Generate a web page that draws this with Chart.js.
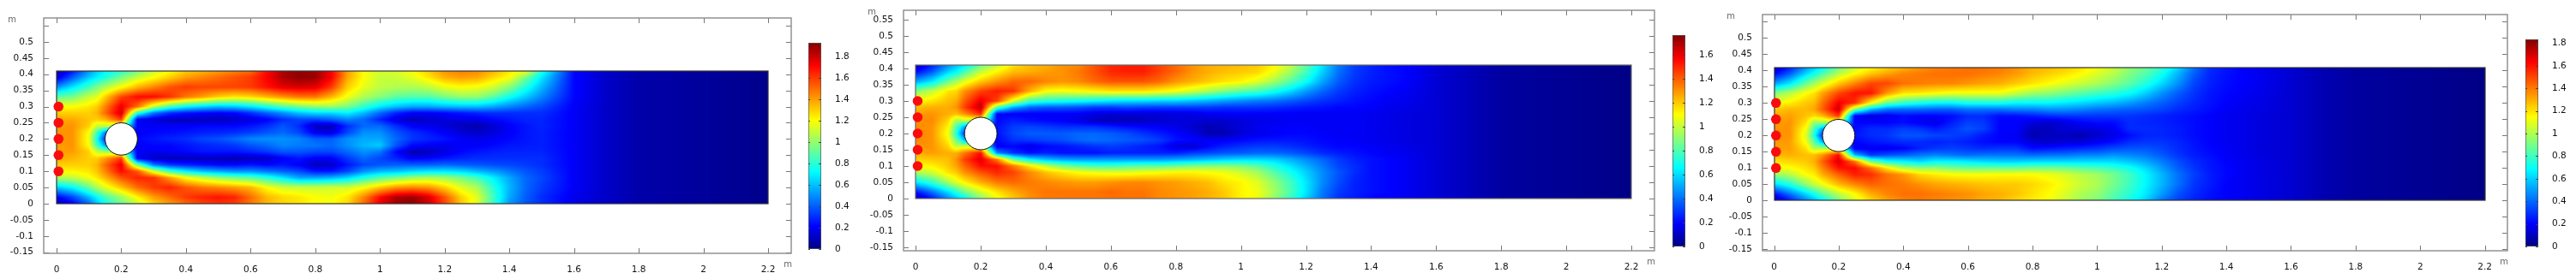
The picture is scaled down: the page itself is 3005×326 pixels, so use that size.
<!DOCTYPE html>
<html>
<head>
<meta charset="utf-8">
<title>Velocity field</title>
<script src="https://cdn.jsdelivr.net/npm/chart.js@4"></script>
<style>
  body { margin: 0; background: #fff; width: 3005px; height: 326px; overflow: hidden; position: relative; }
  canvas { position: absolute; top: 0; filter: blur(.4px); }
</style>
</head>
<body>
<script>
// sample positions of the speed grid (m)
const gridX = [0, .05, .1, .125, .15, .2, .25, .3, .35, .4, .45, .5, .55, .6, .65, .7, .75, .8, .85, .9, .95, 1, 1.05, 1.1, 1.15, 1.2, 1.25, 1.3, 1.35, 1.4, 1.45, 1.5, 1.6, 1.7, 1.8, 2.2];
const gridY = [.41, .39, .36, .33, .3, .28, .26, .24, .22, .2, .18, .16, .14, .12, .1, .08, .05, .02, 0];

// speed, one row per gridY
const speedA = [
  [.05,.25,.5,.62,.7,.8,.95,1.1,1.2,1.3,1.35,1.4,1.45,1.5,1.7,1.85,1.9,1.88,1.72,1.4,1.2,1.12,1.13,1.2,1.3,1.42,1.46,1.44,1.36,1.25,1.2,.78,.22,.12,.07,.02],
  [.15,.4,.62,.7,.78,.95,1.1,1.2,1.3,1.4,1.45,1.5,1.55,1.6,1.72,1.85,1.9,1.88,1.72,1.38,1.2,1.1,1.1,1.15,1.25,1.36,1.4,1.38,1.28,1.2,.95,.68,.22,.12,.07,.02],
  [.5,.68,.85,.95,1.05,1.2,1.35,1.45,1.55,1.6,1.58,1.58,1.58,1.6,1.68,1.76,1.78,1.76,1.6,1.3,1.16,1.08,1.06,1.05,1.08,1.16,1.2,1.18,1.12,.98,.78,.58,.22,.12,.07,.02],
  [.9,.95,1.1,1.15,1.3,1.58,1.7,1.7,1.62,1.48,1.4,1.3,1.25,1.28,1.35,1.42,1.48,1.48,1.35,1.18,1.05,.98,.9,.88,.88,.95,1,1,.9,.75,.62,.48,.22,.12,.07,.02],
  [1.2,1.2,1.25,1.3,1.45,1.75,1.5,1.1,.85,.72,.65,.6,.62,.68,.78,.88,.95,1,1.02,.95,.82,.68,.6,.55,.55,.58,.6,.6,.55,.48,.42,.36,.2,.12,.07,.02],
  [1.3,1.3,1.3,1.35,1.5,1.8,.8,.45,.3,.25,.22,.2,.22,.3,.4,.5,.6,.65,.65,.7,.58,.42,.28,.2,.2,.22,.25,.28,.3,.3,.3,.3,.2,.12,.07,.02],
  [1.38,1.38,1.32,1.3,1.35,1.6,.2,.15,.1,.1,.1,.1,.12,.15,.2,.3,.35,.35,.4,.48,.42,.28,.15,.1,.13,.15,.17,.17,.22,.25,.28,.28,.2,.12,.07,.02],
  [1.4,1.42,1.3,1.1,1.1,1,.2,.2,.2,.2,.22,.22,.22,.25,.3,.38,.3,.1,.1,.3,.42,.42,.3,.2,.18,.15,.1,.08,.13,.2,.25,.28,.2,.12,.07,.02],
  [1.42,1.42,1.2,.85,.5,.2,.2,.22,.23,.25,.27,.28,.3,.33,.38,.42,.35,.18,.15,.35,.5,.5,.38,.3,.25,.2,.15,.12,.15,.2,.25,.27,.2,.12,.07,.02],
  [1.42,1.42,1.18,.75,.3,.2,.22,.25,.28,.3,.35,.37,.42,.48,.5,.5,.48,.4,.4,.5,.55,.55,.42,.32,.28,.25,.2,.18,.2,.22,.25,.27,.2,.12,.07,.02],
  [1.4,1.42,1.2,.85,.55,.2,.2,.22,.22,.25,.28,.3,.32,.38,.42,.48,.46,.45,.42,.5,.58,.62,.38,.22,.2,.18,.2,.2,.22,.25,.26,.27,.2,.12,.07,.02],
  [1.4,1.4,1.3,1.1,1.05,1,.2,.18,.2,.22,.25,.25,.25,.28,.32,.38,.38,.35,.35,.42,.5,.45,.22,.08,.1,.16,.22,.25,.27,.28,.28,.28,.2,.12,.07,.02],
  [1.38,1.35,1.3,1.3,1.4,1.6,.2,.12,.1,.1,.1,.1,.08,.1,.12,.2,.25,.2,.2,.32,.42,.35,.28,.2,.22,.25,.28,.3,.3,.3,.3,.3,.2,.12,.07,.02],
  [1.3,1.3,1.3,1.35,1.5,1.75,.95,.45,.32,.28,.25,.22,.22,.25,.22,.25,.2,.1,.12,.25,.35,.38,.4,.4,.4,.42,.4,.38,.36,.35,.33,.3,.2,.12,.07,.02],
  [1.22,1.22,1.25,1.32,1.45,1.7,1.55,1.15,.85,.7,.6,.55,.5,.5,.45,.4,.35,.25,.25,.35,.5,.58,.6,.65,.68,.68,.65,.58,.52,.45,.38,.33,.2,.12,.07,.02],
  [1.05,1.08,1.18,1.25,1.35,1.55,1.65,1.62,1.4,1.2,1.1,1,.95,.9,.8,.68,.55,.55,.58,.65,.78,.88,.95,1.02,1.05,1.02,.95,.85,.7,.55,.42,.35,.2,.12,.07,.02],
  [.62,.72,.92,1.05,1.15,1.32,1.5,1.6,1.65,1.55,1.48,1.45,1.4,1.35,1.2,1.12,1.1,1.1,1.12,1.12,1.2,1.32,1.42,1.45,1.42,1.3,1.15,1.05,.8,.58,.42,.33,.2,.12,.07,.02],
  [.2,.35,.58,.72,.85,1.02,1.22,1.4,1.5,1.6,1.65,1.68,1.65,1.5,1.35,1.28,1.25,1.2,1.18,1.25,1.45,1.7,1.85,1.88,1.78,1.55,1.3,1.15,.85,.55,.4,.3,.18,.12,.07,.02],
  [.06,.2,.42,.6,.75,.92,1.1,1.28,1.4,1.5,1.58,1.62,1.6,1.48,1.35,1.28,1.25,1.2,1.2,1.28,1.5,1.75,1.88,1.9,1.8,1.58,1.32,1.15,.82,.52,.38,.3,.18,.12,.07,.02]
];
const speedB = [
  [.08,.25,.45,.55,.62,.85,1,1.15,1.22,1.25,1.3,1.32,1.42,1.5,1.52,1.52,1.45,1.38,1.3,1.25,1.24,1.22,1.2,1.12,1,.82,.62,.42,.3,.26,.22,.2,.13,.09,.05,.01],
  [.2,.35,.58,.65,.78,1,1.12,1.22,1.25,1.28,1.3,1.35,1.42,1.5,1.52,1.52,1.45,1.38,1.3,1.25,1.22,1.2,1.18,1.08,.95,.78,.58,.4,.3,.25,.22,.2,.13,.09,.05,.01],
  [.5,.62,.85,.95,1.05,1.2,1.3,1.38,1.38,1.33,1.3,1.32,1.38,1.42,1.42,1.42,1.38,1.3,1.25,1.2,1.15,1.12,1.05,.95,.82,.68,.5,.36,.28,.24,.22,.2,.13,.09,.05,.01],
  [.9,1,1.15,1.18,1.3,1.45,1.52,1.48,1.25,1.1,1.08,1.1,1.12,1.15,1.15,1.15,1.12,1.08,1.02,.95,.88,.82,.78,.7,.6,.48,.38,.3,.25,.22,.2,.18,.13,.09,.05,.01],
  [1.1,1.15,1.22,1.25,1.4,1.6,1.45,1.05,.78,.72,.7,.68,.65,.62,.6,.6,.58,.58,.55,.52,.48,.45,.42,.4,.36,.32,.28,.25,.22,.2,.18,.17,.13,.09,.05,.01],
  [1.22,1.25,1.25,1.3,1.45,1.68,.8,.5,.38,.35,.35,.33,.3,.3,.32,.3,.3,.3,.3,.3,.28,.28,.28,.27,.25,.23,.22,.2,.2,.19,.17,.16,.13,.09,.05,.01],
  [1.28,1.3,1.25,1.22,1.3,1.5,.2,.18,.18,.18,.18,.18,.15,.13,.13,.13,.13,.14,.15,.17,.18,.18,.18,.18,.18,.18,.18,.18,.18,.17,.16,.15,.13,.09,.05,.01],
  [1.3,1.32,1.18,.95,1,1,.2,.25,.22,.2,.18,.15,.1,.08,.08,.1,.12,.14,.14,.12,.12,.14,.16,.17,.18,.18,.18,.18,.18,.17,.16,.15,.13,.09,.05,.01],
  [1.32,1.3,1.12,.8,.5,.2,.22,.3,.32,.3,.28,.28,.28,.25,.22,.2,.18,.16,.12,.08,.1,.14,.17,.18,.19,.19,.18,.18,.18,.17,.16,.15,.13,.09,.05,.01],
  [1.33,1.3,1.08,.72,.3,.2,.22,.32,.36,.36,.36,.38,.38,.36,.33,.28,.24,.2,.16,.08,.08,.13,.16,.18,.2,.2,.19,.18,.18,.17,.16,.15,.13,.09,.05,.01],
  [1.32,1.3,1.12,.85,.55,.2,.2,.28,.3,.32,.34,.38,.4,.38,.36,.34,.3,.22,.2,.18,.18,.2,.22,.23,.23,.22,.2,.19,.18,.17,.16,.15,.13,.09,.05,.01],
  [1.3,1.3,1.18,1,1.05,1,.18,.2,.15,.2,.22,.25,.28,.3,.28,.25,.22,.14,.12,.2,.25,.28,.3,.3,.28,.25,.22,.2,.2,.18,.17,.16,.13,.09,.05,.01],
  [1.25,1.28,1.25,1.25,1.35,1.55,.45,.28,.22,.25,.22,.22,.22,.25,.25,.25,.25,.25,.3,.32,.35,.36,.38,.38,.36,.32,.27,.24,.22,.2,.18,.17,.13,.09,.05,.01],
  [1.18,1.2,1.22,1.3,1.45,1.62,1.35,.85,.65,.55,.5,.48,.48,.48,.48,.48,.48,.5,.52,.55,.58,.6,.6,.58,.52,.45,.38,.3,.25,.22,.2,.18,.13,.09,.05,.01],
  [1.1,1.12,1.2,1.27,1.38,1.55,1.55,1.35,1.15,1,.88,.82,.78,.78,.8,.82,.82,.85,.88,.9,.9,.88,.82,.72,.62,.52,.42,.32,.27,.22,.2,.18,.13,.09,.05,.01],
  [.95,1.02,1.15,1.2,1.3,1.42,1.5,1.45,1.32,1.22,1.15,1.1,1.08,1.06,1.06,1.08,1.1,1.12,1.12,1.1,1.08,1.02,.95,.82,.7,.58,.45,.35,.27,.22,.2,.18,.13,.09,.05,.01],
  [.62,.75,.95,1.05,1.12,1.25,1.35,1.38,1.35,1.32,1.3,1.28,1.28,1.3,1.32,1.32,1.3,1.28,1.25,1.22,1.15,1.12,1.05,.92,.78,.62,.45,.33,.25,.22,.2,.18,.13,.09,.05,.01],
  [.22,.4,.6,.72,.85,1.02,1.15,1.25,1.32,1.36,1.36,1.36,1.36,1.38,1.36,1.36,1.32,1.3,1.28,1.25,1.2,1.12,1.08,.95,.8,.62,.42,.3,.25,.22,.2,.18,.13,.09,.05,.01],
  [.06,.22,.45,.55,.65,.9,1.08,1.2,1.3,1.34,1.35,1.35,1.35,1.36,1.36,1.36,1.32,1.3,1.28,1.25,1.2,1.12,1.08,.92,.76,.58,.4,.28,.24,.2,.18,.17,.13,.09,.05,.01]
];
const speedC = [
  [.08,.25,.48,.58,.68,.88,1.05,1.15,1.22,1.28,1.34,1.38,1.4,1.42,1.42,1.4,1.36,1.3,1.28,1.25,1.2,1.14,1.05,.95,.88,.78,.62,.42,.28,.24,.2,.18,.13,.08,.05,.01],
  [.2,.38,.62,.72,.82,1.02,1.15,1.25,1.32,1.38,1.4,1.42,1.42,1.42,1.4,1.38,1.34,1.28,1.24,1.2,1.15,1.08,1.02,.92,.84,.72,.55,.38,.27,.23,.2,.18,.13,.08,.05,.01],
  [.5,.65,.88,.98,1.08,1.25,1.38,1.5,1.5,1.42,1.4,1.38,1.38,1.35,1.32,1.3,1.25,1.2,1.15,1.1,1.05,1,.93,.85,.75,.62,.48,.33,.26,.22,.2,.18,.13,.08,.05,.01],
  [.92,1.02,1.15,1.2,1.32,1.5,1.6,1.6,1.35,1.2,1.18,1.15,1.12,1.12,1.12,1.12,1.05,.98,.95,.9,.85,.8,.76,.7,.6,.48,.38,.3,.24,.21,.19,.17,.13,.08,.05,.01],
  [1.12,1.18,1.25,1.28,1.42,1.65,1.55,1.15,.88,.78,.72,.68,.68,.72,.72,.72,.68,.68,.68,.65,.62,.58,.55,.5,.44,.38,.32,.27,.23,.2,.18,.16,.13,.08,.05,.01],
  [1.25,1.28,1.28,1.32,1.45,1.72,.9,.55,.42,.4,.4,.38,.38,.42,.42,.42,.45,.45,.48,.48,.45,.42,.4,.38,.36,.33,.28,.25,.22,.19,.17,.16,.13,.08,.05,.01],
  [1.3,1.33,1.26,1.22,1.28,1.52,.2,.15,.17,.22,.2,.2,.22,.28,.28,.22,.22,.25,.28,.3,.3,.3,.3,.3,.28,.26,.24,.22,.2,.18,.17,.15,.13,.08,.05,.01],
  [1.33,1.35,1.2,.95,.98,1,.2,.2,.2,.22,.18,.16,.25,.32,.3,.2,.2,.15,.12,.15,.2,.22,.22,.28,.27,.26,.24,.22,.2,.18,.17,.15,.13,.08,.05,.01],
  [1.35,1.35,1.12,.8,.5,.2,.22,.28,.28,.32,.3,.25,.3,.36,.32,.2,.2,.1,.1,.14,.14,.15,.18,.28,.28,.27,.25,.22,.2,.18,.17,.15,.13,.08,.05,.01],
  [1.36,1.35,1.08,.72,.3,.2,.24,.28,.3,.36,.36,.33,.32,.3,.24,.2,.18,.08,.1,.1,.08,.12,.16,.22,.27,.27,.25,.22,.2,.18,.17,.15,.13,.08,.05,.01],
  [1.35,1.33,1.12,.85,.55,.2,.2,.24,.26,.28,.28,.26,.28,.25,.22,.2,.2,.14,.12,.14,.14,.18,.22,.28,.3,.3,.27,.23,.2,.18,.17,.15,.13,.08,.05,.01],
  [1.32,1.33,1.2,1,1.02,1,.18,.18,.17,.2,.26,.3,.32,.3,.28,.3,.3,.22,.24,.26,.28,.3,.34,.36,.36,.33,.28,.24,.21,.19,.17,.15,.13,.08,.05,.01],
  [1.28,1.3,1.27,1.27,1.35,1.62,.55,.3,.35,.38,.42,.45,.42,.4,.42,.42,.42,.4,.42,.42,.45,.45,.48,.46,.43,.37,.3,.25,.22,.19,.17,.15,.13,.08,.05,.01],
  [1.2,1.22,1.25,1.3,1.45,1.7,1.42,.9,.72,.68,.62,.68,.68,.65,.62,.6,.6,.62,.62,.62,.62,.62,.62,.58,.52,.44,.35,.28,.24,.2,.18,.16,.13,.08,.05,.01],
  [1.12,1.14,1.2,1.25,1.38,1.6,1.62,1.42,1.18,1,.95,.95,.9,.88,.88,.88,.88,.9,.9,.88,.85,.82,.78,.72,.62,.5,.38,.3,.24,.21,.18,.16,.13,.08,.05,.01],
  [.95,1.02,1.15,1.18,1.3,1.45,1.58,1.55,1.42,1.35,1.22,1.18,1.15,1.14,1.14,1.15,1.15,1.15,1.12,1.08,1.02,.98,.9,.8,.68,.55,.42,.32,.25,.21,.18,.16,.13,.08,.05,.01],
  [.62,.75,.95,1.05,1.12,1.28,1.38,1.45,1.42,1.4,1.36,1.32,1.3,1.28,1.26,1.25,1.25,1.22,1.18,1.12,1.05,1,.9,.8,.68,.55,.42,.3,.25,.2,.18,.16,.13,.08,.05,.01],
  [.22,.42,.62,.72,.85,1.02,1.15,1.3,1.38,1.42,1.42,1.4,1.38,1.36,1.32,1.3,1.26,1.2,1.15,1.08,1,.95,.85,.76,.65,.5,.36,.28,.23,.2,.18,.16,.13,.08,.05,.01],
  [.06,.24,.45,.55,.65,.9,1.08,1.22,1.32,1.38,1.4,1.38,1.36,1.34,1.3,1.28,1.22,1.18,1.14,1.06,.98,.92,.82,.72,.6,.42,.32,.26,.22,.2,.18,.16,.13,.08,.05,.01]
];

// axis ticks
const xTicks = [0, .2, .4, .6, .8, 1, 1.2, 1.4, 1.6, 1.8, 2, 2.2];
const yTicks = [-.15, -.1, -.05, 0, .05, .1, .15, .2, .25, .3, .35, .4, .45, .5, .55];
const barTicks = [0, .2, .4, .6, .8, 1, 1.2, 1.4, 1.6, 1.8];

// inlets and cylinder
const inletX = [.006, .006, .006, .006, .006];
const inletY = [.1, .15, .2, .25, .3];
const cylinderX = [.2];
const cylinderY = [.2];
const cylinderR = .05;
const channelW = 2.2;
const channelH = .41;

// jet colour stops
const jetStops = [[0, 0, 0, 128], [.11, 0, 0, 255], [.375, 0, 255, 255], [.625, 255, 255, 0], [.89, 255, 0, 0], [1, 128, 0, 0]];

const fontStyle = { family: "'DejaVu Sans'", size: 10.5 };
const labelColor = '#111';
const frameColor = '#8a8a8a';

function jet(t) {
  t = Math.min(1, Math.max(0, t));
  for (let i = 1; i < jetStops.length; i++) {
    if (t <= jetStops[i][0]) {
      const a = jetStops[i - 1], b = jetStops[i];
      const f = (t - a[0]) / (b[0] - a[0]);
      return [a[1] + (b[1] - a[1]) * f, a[2] + (b[2] - a[2]) * f, a[3] + (b[3] - a[3]) * f];
    }
  }
  return jetStops[jetStops.length - 1].slice(1);
}

// finds the cell holding v, gridY runs downward so it gets flipped by the sign
function locate(grid, v) {
  const sign = grid[1] > grid[0] ? 1 : -1;
  let i = 0;
  while (i < grid.length - 2 && sign * v > sign * grid[i + 1]) i++;
  return [i, (v - grid[i]) / (grid[i + 1] - grid[i])];
}

// paints the grid between the channel walls through the chart scales
const fieldPlugin = {
  id: 'field',
  beforeDatasetsDraw(chart, args, opts) {
    const { x, y } = chart.scales;
    const ctx = chart.ctx;
    const left = Math.round(x.getPixelForValue(0)), right = Math.round(x.getPixelForValue(channelW));
    const top = Math.round(y.getPixelForValue(channelH)), bottom = Math.round(y.getPixelForValue(0));
    const img = ctx.createImageData(right - left, bottom - top);
    for (let py = top; py < bottom; py++) {
      const [r, fy] = locate(gridY, y.getValueForPixel(py + .5));
      for (let px = left; px < right; px++) {
        const [c, fx] = locate(gridX, x.getValueForPixel(px + .5));
        const row0 = opts.speed[r], row1 = opts.speed[r + 1];
        const v0 = row0[c] + (row0[c + 1] - row0[c]) * fx;
        const v1 = row1[c] + (row1[c + 1] - row1[c]) * fx;
        const rgb = jet((v0 + (v1 - v0) * fy) / opts.max);
        const k = ((py - top) * (right - left) + px - left) * 4;
        img.data[k] = rgb[0];
        img.data[k + 1] = rgb[1];
        img.data[k + 2] = rgb[2];
        img.data[k + 3] = 255;
      }
    }
    ctx.putImageData(img, left, top);
    ctx.save();
    ctx.strokeStyle = opts.edge;
    ctx.lineWidth = 1.2;
    ctx.strokeRect(left, top, right - left, bottom - top);
    ctx.restore();
  },
  afterDraw(chart) {
    const { x, y } = chart.scales;
    const { left, right, top, bottom } = chart.chartArea;
    const ctx = chart.ctx;
    ctx.save();
    ctx.strokeStyle = '#777';
    ctx.lineWidth = 1;
    ctx.beginPath();
    y.ticks.forEach(t => {
      const p = Math.round(y.getPixelForValue(t.value)) + .5;
      ctx.moveTo(left, p); ctx.lineTo(left + 6, p);
      ctx.moveTo(right, p); ctx.lineTo(right - 6, p);
    });
    x.ticks.forEach(t => {
      const p = Math.round(x.getPixelForValue(t.value)) + .5;
      ctx.moveTo(p, top); ctx.lineTo(p, top + 6);
      ctx.moveTo(p, bottom); ctx.lineTo(p, bottom - 6);
    });
    ctx.stroke();
    ctx.strokeStyle = frameColor;
    ctx.lineWidth = 1.4;
    ctx.strokeRect(left, top, right - left, bottom - top);
    // unit labels
    ctx.fillStyle = '#666';
    ctx.font = "10px 'DejaVu Sans'";
    ctx.textAlign = 'center';
    ctx.textBaseline = 'middle';
    ctx.fillText('m', left - 37, top + 2);
    ctx.fillText('m', right - 4, bottom + 13);
    ctx.restore();
  }
};

const barPlugin = {
  id: 'barTicks',
  afterDraw(chart) {
    const y = chart.scales.y;
    const { left, right } = chart.chartArea;
    const ctx = chart.ctx;
    ctx.save();
    ctx.strokeStyle = '#444';
    ctx.beginPath();
    y.ticks.forEach(t => {
      const p = Math.round(y.getPixelForValue(t.value)) + .5;
      ctx.moveTo(right - 3, p); ctx.lineTo(right, p);
      ctx.moveTo(left, p); ctx.lineTo(left + 2, p);
    });
    ctx.stroke();
    ctx.restore();
  }
};

function addCanvas(left, width) {
  const canvas = document.createElement('canvas');
  canvas.width = width;
  canvas.height = 326;
  canvas.style.left = left + 'px';
  canvas.style.width = width + 'px';
  canvas.style.height = '326px';
  document.body.appendChild(canvas);
  return canvas;
}

function addPanel(p) {
  const margin = 50, rightGap = 12;
  const canvas = addCanvas(p.left - margin, p.right - p.left + margin + rightGap);
  // scale ends worked out from where 0 and 2.2 / 0 and 0.4 sit in the picture
  const pxX = (p.x22 - p.x0) / 2.2, pxY = (p.y0 - p.y04) / .4;
  new Chart(canvas, {
    type: 'scatter',
    data: {
      datasets: [
        {
          data: inletX.map((v, i) => ({ x: v, y: inletY[i] })),
          pointRadius: 5.8,
          pointBackgroundColor: '#fa0c0c',
          pointBorderWidth: 0
        },
        {
          data: cylinderX.map((v, i) => ({ x: v, y: cylinderY[i] })),
          pointRadius: c => {
            const s = c.chart.scales.x;
            return Math.abs(s.getPixelForValue(cylinderR) - s.getPixelForValue(0));
          },
          pointBackgroundColor: '#fff',
          pointBorderColor: '#111',
          pointBorderWidth: 1
        }
      ]
    },
    options: {
      responsive: false,
      animation: false,
      events: [],
      layout: { padding: { left: margin - 44, top: p.top, right: rightGap, bottom: 326 - p.bottom - 24 } },
      plugins: {
        legend: { display: false },
        tooltip: { enabled: false },
        field: { speed: p.speed, max: p.max, edge: p.edge }
      },
      scales: {
        x: {
          type: 'linear',
          min: (p.left - p.x0) / pxX,
          max: (p.right - p.x0) / pxX,
          grid: { display: false },
          border: { display: false },
          afterFit: s => { s.height = 24; },
          afterBuildTicks: s => { s.ticks = xTicks.map(v => ({ value: v })); },
          ticks: { color: labelColor, font: fontStyle, padding: 5, maxRotation: 0, autoSkip: false, callback: v => String(v) }
        },
        y: {
          type: 'linear',
          min: (p.y0 - p.bottom) / pxY,
          max: (p.y0 - p.top) / pxY,
          grid: { display: false },
          border: { display: false },
          afterFit: s => { s.width = 44; },
          afterBuildTicks: s => { s.ticks = yTicks.map(v => ({ value: v })); },
          ticks: { color: labelColor, font: fontStyle, padding: 4, autoSkip: false, callback: v => (v === .55 && !p.showTop ? '' : String(v)) }
        }
      }
    },
    plugins: [fieldPlugin]
  });
}

function addColorBar(b) {
  const margin = 4, rightGap = 34;
  const canvas = addCanvas(b.left - margin, b.right - b.left + margin + rightGap);
  new Chart(canvas, {
    type: 'bar',
    data: {
      labels: ['speed'],
      datasets: [{
        data: [[0, b.max]],
        barPercentage: 1,
        categoryPercentage: 1,
        borderWidth: 1,
        borderColor: '#555',
        borderSkipped: false,
        backgroundColor: c => {
          const { chartArea, scales } = c.chart;
          if (!chartArea) return '#00f';
          const g = c.chart.ctx.createLinearGradient(0, scales.y.getPixelForValue(0), 0, scales.y.getPixelForValue(b.max));
          jetStops.forEach(s => g.addColorStop(s[0], `rgb(${s[1]},${s[2]},${s[3]})`));
          return g;
        }
      }]
    },
    options: {
      responsive: false,
      animation: false,
      events: [],
      layout: { padding: { left: margin, top: b.top, right: 0, bottom: 326 - b.bottom } },
      plugins: { legend: { display: false }, tooltip: { enabled: false } },
      scales: {
        x: { display: false },
        y: {
          position: 'right',
          min: 0,
          max: b.max,
          grid: { display: false },
          border: { display: false },
          afterFit: s => { s.width = rightGap; },
          afterBuildTicks: s => { s.ticks = barTicks.filter(v => v <= b.max).map(v => ({ value: v })); },
          ticks: { color: labelColor, font: fontStyle, padding: 8, autoSkip: false, callback: v => String(v) }
        }
      }
    },
    plugins: [barPlugin]
  });
}

addPanel({ left: 51, right: 923, top: 21, bottom: 296, x0: 66, x22: 896, y0: 238, y04: 86.7, speed: speedA, max: 1.927, edge: '#333', showTop: false });
addPanel({ left: 1054, right: 1930, top: 12, bottom: 293, x0: 1068.2, x22: 1903, y0: 232, y04: 80, speed: speedB, max: 1.764, edge: '#666', showTop: true });
addPanel({ left: 2056, right: 2925, top: 17, bottom: 293, x0: 2069.5, x22: 2898.6, y0: 234.3, y04: 82.3, speed: speedC, max: 1.835, edge: '#333', showTop: false });

addColorBar({ left: 943, right: 958, top: 50, bottom: 291, max: 1.927 });
addColorBar({ left: 1951, right: 1966, top: 41, bottom: 288, max: 1.764 });
addColorBar({ left: 2946, right: 2961, top: 46, bottom: 288, max: 1.835 });
</script>
</body>
</html>
